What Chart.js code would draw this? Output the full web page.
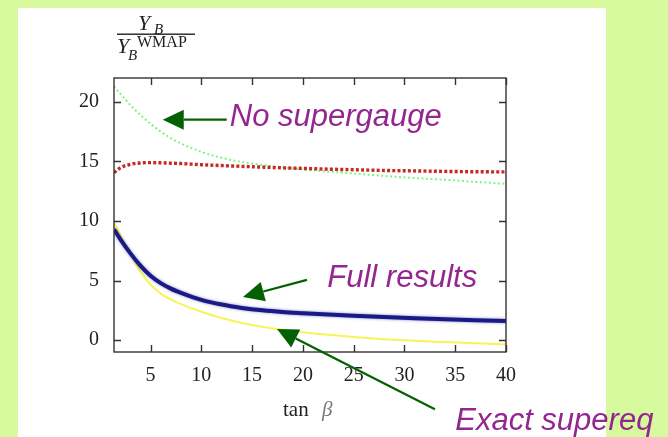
<!DOCTYPE html>
<html>
<head>
<meta charset="utf-8">
<title>Y_B / Y_B^WMAP vs tan beta</title>
<script src="https://cdn.jsdelivr.net/npm/chart.js@4.4.1/dist/chart.umd.min.js"></script>
<style>
  html, body { margin: 0; padding: 0; background: #d8fa9e; }
  #wrap { width: 668px; height: 437px; }
</style>
</head>
<body>
<div id="wrap"><canvas id="myChart" width="668" height="437"></canvas></div>
<script>
// tan(beta) sample points shared by every curve
const tanBeta = [1.4, 2, 3, 4, 5, 6, 7, 8, 10, 12, 14, 16, 18, 20, 22, 25, 28, 31, 34, 37, 40];

const fullResults = [9.3, 8.5, 7.3, 6.25, 5.4, 4.78, 4.32, 3.97, 3.38, 2.98, 2.7, 2.5, 2.36, 2.26, 2.17, 2.05, 1.94, 1.84, 1.75, 1.67, 1.6];
const exactSupereq = [9.9, 8.85, 7.25, 5.75, 4.65, 3.9, 3.4, 3.02, 2.38, 1.85, 1.43, 1.12, 0.87, 0.66, 0.48, 0.26, 0.08, -0.06, -0.17, -0.27, -0.36];
const noSupergauge = [21.3, 20.7, 19.75, 18.9, 18.15, 17.5, 16.95, 16.5, 15.8, 15.3, 14.95, 14.7, 14.5, 14.33, 14.18, 13.98, 13.78, 13.6, 13.45, 13.28, 13.12];
const otherCurve = [14.05, 14.45, 14.75, 14.87, 14.9, 14.88, 14.85, 14.82, 14.72, 14.65, 14.58, 14.52, 14.46, 14.41, 14.36, 14.3, 14.24, 14.2, 14.16, 14.13, 14.12];

const xTicks = [5, 10, 15, 20, 25, 30, 35, 40];
const yTicks = [0, 5, 10, 15, 20];

// callouts, anchored in data units
const notes = [
  { text: "No supergauge", at: [12.8, 18.0], from: [12.5, 18.5], to: [6.2, 18.5] },
  { text: "Full results", at: [22.4, 4.46], from: [20.4, 5.05], to: [14.1, 3.62] },
  { text: "Exact supereq", at: [35.0, -7.57], from: [33.0, -5.8], to: [17.45, 0.93] },
];

const toPoints = (ys) => ys.map((y, i) => ({ x: tanBeta[i], y }));

const serif = "'Liberation Serif', 'DejaVu Serif', serif";

// green page with the white sheet the plot sits on
const backdrop = {
  id: "backdrop",
  beforeDraw(chart) {
    const ctx = chart.ctx;
    ctx.save();
    ctx.fillStyle = "#d8fa9e";
    ctx.fillRect(0, 0, chart.width, chart.height);
    ctx.fillStyle = "#ffffff";
    ctx.fillRect(18, 8, 588, chart.height - 8);
    ctx.restore();
  },
};

// soft halo around the thick blue curve
const halo = {
  id: "halo",
  beforeDatasetDraw(chart, args) {
    if (args.index !== 0) return;
    chart.ctx.save();
    chart.ctx.shadowColor = "rgba(40, 40, 150, 0.55)";
    chart.ctx.shadowBlur = 3;
  },
  afterDatasetDraw(chart, args) {
    if (args.index !== 0) return;
    chart.ctx.restore();
  },
};

// gnuplot-style frame: box plus inward ticks on all four sides
const frame = {
  id: "frame",
  afterDatasetsDraw(chart) {
    const { ctx, chartArea: a, scales } = chart;
    const len = 7;
    ctx.save();
    ctx.strokeStyle = "#333";
    ctx.lineWidth = 1.4;
    ctx.strokeRect(a.left, a.top, a.right - a.left, a.bottom - a.top);
    ctx.beginPath();
    xTicks.forEach((v) => {
      const px = Math.round(scales.x.getPixelForValue(v)) + 0.5;
      ctx.moveTo(px, a.bottom); ctx.lineTo(px, a.bottom - len);
      ctx.moveTo(px, a.top); ctx.lineTo(px, a.top + len);
    });
    yTicks.forEach((v) => {
      const py = Math.round(scales.y.getPixelForValue(v)) + 0.5;
      ctx.moveTo(a.left, py); ctx.lineTo(a.left + len, py);
      ctx.moveTo(a.right, py); ctx.lineTo(a.right - len, py);
    });
    ctx.stroke();
    ctx.restore();
  },
};

// axis titles: y as a stacked fraction, x as "tan β"
const titles = {
  id: "titles",
  afterDraw(chart) {
    const { ctx, chartArea: a } = chart;
    ctx.save();
    ctx.fillStyle = "#222";
    ctx.textBaseline = "alphabetic";
    ctx.textAlign = "left";

    // numerator Y_B
    ctx.font = "italic 22px " + serif;
    ctx.fillText("Y", 138, 30);
    ctx.font = "italic 15px " + serif;
    ctx.fillText("B", 154, 34);
    // fraction bar
    ctx.fillRect(117, 33.5, 78, 1.4);
    // denominator Y_B^WMAP
    ctx.font = "italic 22px " + serif;
    ctx.fillText("Y", 117, 53);
    ctx.font = "italic 15px " + serif;
    ctx.fillText("B", 128, 60);
    ctx.font = "16px " + serif;
    ctx.fillText("WMAP", 137, 47);

    // x title
    const cx = (a.left + a.right) / 2;
    ctx.font = "21px " + serif;
    ctx.fillText("tan", cx - 27, 416);
    ctx.fillStyle = "#777";
    ctx.font = "italic 21px " + serif;
    ctx.fillText("β", cx + 12, 416);
    ctx.restore();
  },
};

// purple captions with dark green arrows pointing at the curves
const callouts = {
  id: "callouts",
  afterDraw(chart) {
    const { ctx, scales } = chart;
    const px = (p) => [scales.x.getPixelForValue(p[0]), scales.y.getPixelForValue(p[1])];
    ctx.save();
    notes.forEach((n) => {
      const [tx, ty] = px(n.from);
      const [hx, hy] = px(n.to);
      const ang = Math.atan2(hy - ty, hx - tx);
      const headLen = 21, headHalf = 10;
      const bx = hx - headLen * Math.cos(ang);
      const by = hy - headLen * Math.sin(ang);
      ctx.strokeStyle = "#036003";
      ctx.fillStyle = "#036003";
      ctx.lineWidth = 2.2;
      ctx.beginPath();
      ctx.moveTo(tx, ty);
      ctx.lineTo(bx, by);
      ctx.stroke();
      ctx.beginPath();
      ctx.moveTo(hx, hy);
      ctx.lineTo(bx + headHalf * Math.sin(ang), by - headHalf * Math.cos(ang));
      ctx.lineTo(bx - headHalf * Math.sin(ang), by + headHalf * Math.cos(ang));
      ctx.closePath();
      ctx.fill();

      const [lx, ly] = px(n.at);
      ctx.fillStyle = "#93278f";
      ctx.font = "italic 31px 'Liberation Sans', Arial, sans-serif";
      ctx.textAlign = "left";
      ctx.textBaseline = "alphabetic";
      ctx.fillText(n.text, lx, ly);
    });
    ctx.restore();
  },
};

const ctx = document.getElementById("myChart").getContext("2d");

new Chart(ctx, {
  type: "line",
  data: {
    datasets: [
      {
        label: "Full results",
        data: toPoints(fullResults),
        borderColor: "#1a1a86",
        borderWidth: 4,
        cubicInterpolationMode: "monotone",
      },
      {
        label: "Dotted red",
        data: toPoints(otherCurve),
        borderColor: "#c42a22",
        borderWidth: 3.4,
        borderDash: [3, 2.2],
        cubicInterpolationMode: "monotone",
      },
      {
        label: "Exact supereq",
        data: toPoints(exactSupereq),
        borderColor: "#f7f455",
        borderWidth: 2,
        cubicInterpolationMode: "monotone",
      },
      {
        label: "No supergauge",
        data: toPoints(noSupergauge),
        borderColor: "#80f380",
        borderWidth: 2,
        borderDash: [2, 2.5],
        cubicInterpolationMode: "monotone",
      },
    ],
  },
  options: {
    responsive: false,
    animation: false,
    devicePixelRatio: 1,
    elements: { point: { radius: 0 } },
    layout: { padding: { top: 78, right: 162, bottom: 0, left: 0 } },
    scales: {
      x: {
        type: "linear",
        min: 1.4,
        max: 40,
        grid: { display: false, drawTicks: false },
        border: { display: false },
        afterBuildTicks: (scale) => { scale.ticks = xTicks.map((value) => ({ value })); },
        afterFit: (scale) => { scale.height = 85; },
        ticks: {
          padding: 12,
          color: "#222",
          font: { family: serif, size: 20 },
          maxRotation: 0,
        },
      },
      y: {
        type: "linear",
        min: -1,
        max: 22,
        grid: { display: false, drawTicks: false },
        border: { display: false },
        afterBuildTicks: (scale) => { scale.ticks = yTicks.map((value) => ({ value })); },
        afterFit: (scale) => { scale.width = 114; },
        ticks: {
          padding: 15,
          color: "#222",
          font: { family: serif, size: 20 },
        },
      },
    },
    plugins: {
      legend: { display: false },
      tooltip: { enabled: false },
    },
  },
  plugins: [backdrop, halo, frame, titles, callouts],
});
</script>
</body>
</html>
